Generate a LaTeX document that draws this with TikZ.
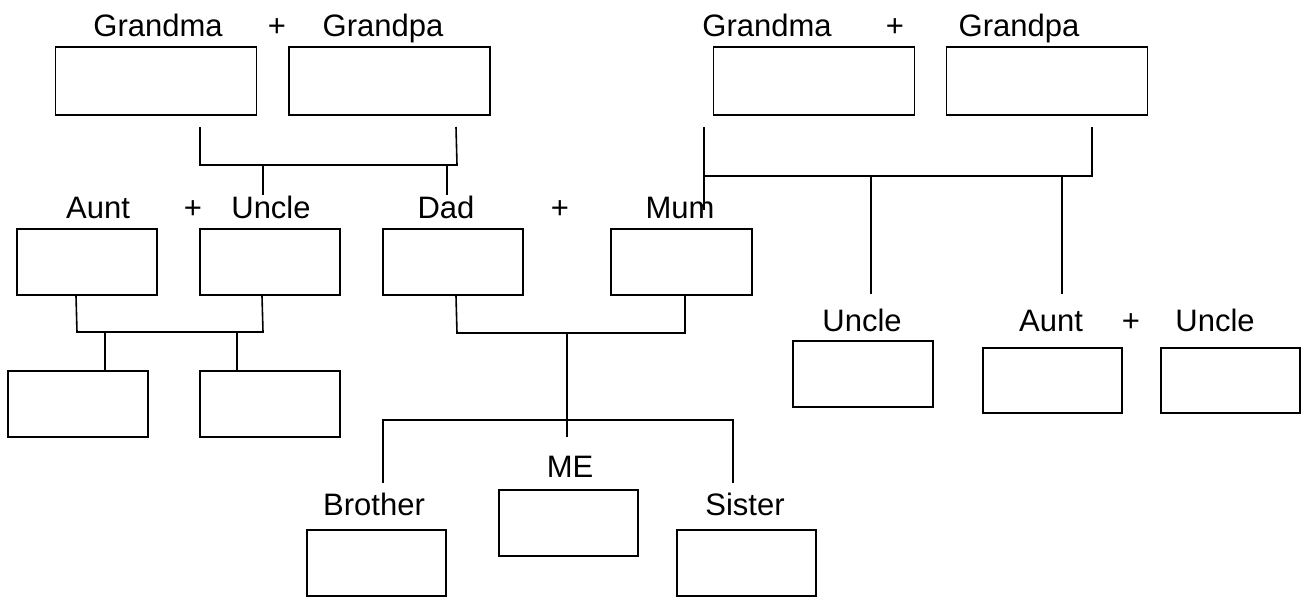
\documentclass[tikz,border=0pt]{standalone}
\usepackage{fontspec}
\setmainfont{Liberation Sans}
\begin{document}
\begin{tikzpicture}[x=1pt, y=-1pt,
    every node/.style={align=center, font=\fontsize{31}{37}\selectfont},
    box/.style={draw, line width=1.8pt, rectangle, inner sep=0pt, minimum width=140pt, minimum height=66pt},
    bigbox/.style={box, minimum width=201pt, minimum height=68pt},
    lbl/.style={anchor=base, inner sep=0pt},
    link/.style={line width=1.6pt}]
    \useasboundingbox (0,0) rectangle (1303,597);

    % Grandparents (Dad's side)
    \node[bigbox] (gmaL) at (156,81) {};
    \node[bigbox] (gpaL) at (389.5,81) {};
    \node[lbl] (gmaLtxt) at (158,36) {Grandma};
    \node[lbl] (plusA) at (277,36) {+};
    \node[lbl] (gpaLtxt) at (383,36) {Grandpa};

    % Grandparents (Mum's side)
    \node[bigbox] (gmaR) at (814,81) {};
    \node[bigbox] (gpaR) at (1047,81) {};
    \node[lbl] (gmaRtxt) at (767,36) {Grandma};
    \node[lbl] (plusB) at (895,36) {+};
    \node[lbl] (gpaRtxt) at (1019,36) {Grandpa};

    % Parents, aunt and uncle
    \node[box] (auntL) at (87,262) {};
    \node[box] (uncleL) at (270,262) {};
    \node[box] (dad) at (453,262) {};
    \node[box, minimum width=141pt] (mum) at (681.5,262) {};
    \node[lbl] (auntLtxt) at (98,218) {Aunt};
    \node[lbl] (plusC) at (193,218) {+};
    \node[lbl] (uncleLtxt) at (271,218) {Uncle};
    \node[lbl] (dadtxt) at (446,218) {Dad};
    \node[lbl] (plusD) at (560,218) {+};
    \node[lbl] (mumtxt) at (680,218) {Mum};

    % Cousins
    \node[box] (cousinA) at (78,404) {};
    \node[box] (cousinB) at (270,404) {};

    % Mum's brothers and sister
    \node[box] (uncleR) at (863,374) {};
    \node[box, minimum width=139pt, minimum height=65pt] (auntR) at (1052.5,380.5) {};
    \node[box, minimum width=139pt, minimum height=65pt] (uncleRR) at (1230.5,380.5) {};
    \node[lbl] (uncleRtxt) at (862,331) {Uncle};
    \node[lbl] (auntRtxt) at (1051,331) {Aunt};
    \node[lbl] (plusE) at (1131,331) {+};
    \node[lbl] (uncleRRtxt) at (1215,331) {Uncle};

    % Me and siblings
    \node[box, minimum width=139pt] (brother) at (376.5,563) {};
    \node[box, minimum width=139pt] (me) at (568.5,523) {};
    \node[box, minimum width=139pt] (sister) at (746.5,563) {};
    \node[lbl] (brothertxt) at (374,515) {Brother};
    \node[lbl] (metxt) at (570,477) {ME};
    \node[lbl] (sistertxt) at (745,515) {Sister};

    % Junction points
    \coordinate (jGL) at (263,165);
    \coordinate (jGD) at (447,165);
    \coordinate (jRL) at (871,176);
    \coordinate (jRA) at (1062,176);
    \coordinate (jCA) at (105,332);
    \coordinate (jCB) at (237,332);
    \coordinate (jMe) at (567,333);
    \coordinate (jSib) at (567,420);

    % Connections
    \draw[link] (200,127) -- (200,165) -- (457,165) -- (456,127);
    \draw[link] (jGL) -- (uncleLtxt.north -| jGL);
    \draw[link] (jGD) -- (dadtxt.north -| jGD);
    \draw[link] (704,127) -- (704,210);
    \draw[link] (704,176) -- (1092,176) -- (1092,127);
    \draw[link] (jRL) -- (871,294);
    \draw[link] (jRA) -- (1062,294);
    \draw[link] (auntL.south -| 76,0) -- (77,332) -- (263,332) -- (uncleL.south -| 262,0);
    \draw[link] (jCA) -- (cousinA.north -| jCA);
    \draw[link] (jCB) -- (cousinB.north -| jCB);
    \draw[link] (dad.south -| 456,0) -- (457,333) -- (685,333) -- (mum.south -| 685,0);
    \draw[link] (jMe) -- (567,437);
    \draw[link] (383,483) -- (383,420) -- (733,420) -- (733,483);
\end{tikzpicture}
\end{document}
